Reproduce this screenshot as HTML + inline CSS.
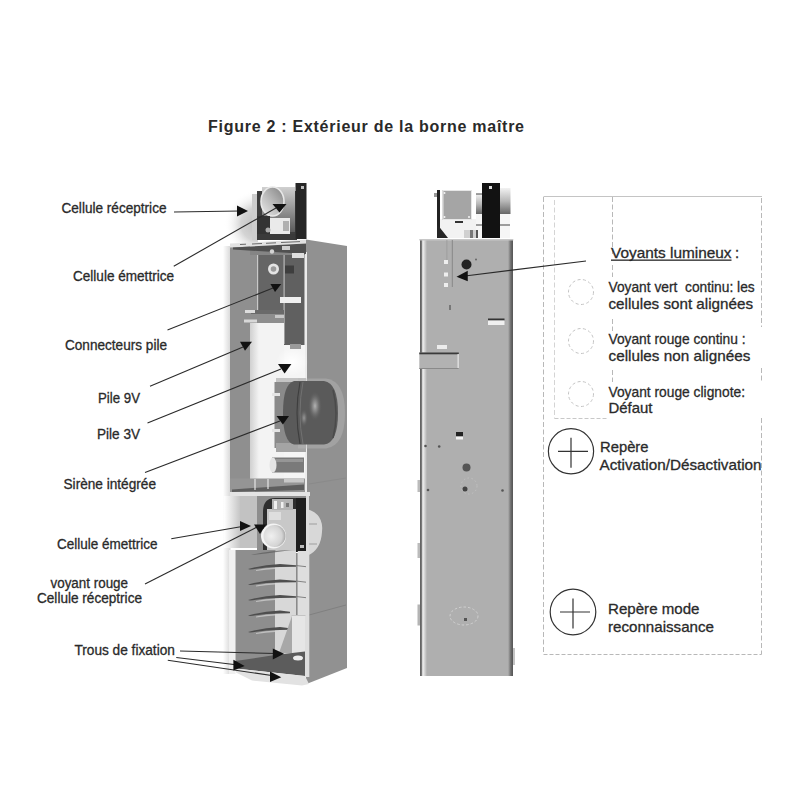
<!DOCTYPE html>
<html><head><meta charset="utf-8">
<style>
html,body{margin:0;padding:0;background:#fff;width:800px;height:800px;overflow:hidden}
svg{display:block}
text{font-family:"Liberation Sans",sans-serif;fill:#2a2a2a;stroke:#2a2a2a;stroke-width:0.3px}
</style></head><body>
<svg width="800" height="800" viewBox="0 0 800 800">
<defs>
  <linearGradient id="shadowL" x1="0" x2="1" y1="0" y2="0">
    <stop offset="0" stop-color="#fff"/><stop offset="1" stop-color="#c2c2c2"/>
  </linearGradient>
  <radialGradient id="lens" cx="0.4" cy="0.4" r="0.7">
    <stop offset="0" stop-color="#f4f4f4"/><stop offset="0.6" stop-color="#c8c8c8"/><stop offset="1" stop-color="#777"/>
  </radialGradient>
  <radialGradient id="siren" cx="0.55" cy="0.4" r="0.65">
    <stop offset="0" stop-color="#b0b0b0"/><stop offset="0.3" stop-color="#6a6a6a"/><stop offset="1" stop-color="#454545"/>
  </radialGradient>
  <radialGradient id="blob" cx="0.7" cy="0.55" r="0.6">
    <stop offset="0" stop-color="#b8b8b8"/><stop offset="0.5" stop-color="#dcdcdc"/><stop offset="1" stop-color="#fff" stop-opacity="0"/>
  </radialGradient>
  <linearGradient id="lensbg" x1="0" x2="0" y1="0" y2="1">
    <stop offset="0" stop-color="#d0d0d0"/><stop offset="1" stop-color="#5a5a5a"/>
  </linearGradient>
  <linearGradient id="edgeL" x1="0" x2="1" y1="0" y2="0">
    <stop offset="0" stop-color="#fff"/><stop offset="1" stop-color="#d8d8d8"/>
  </linearGradient>
  <linearGradient id="edgeIn" x1="0" x2="1" y1="0" y2="0">
    <stop offset="0" stop-color="#d0d0d0"/><stop offset="1" stop-color="#f3f3f3"/>
  </linearGradient>
  <radialGradient id="glow" cx="0.5" cy="0.5" r="0.5">
    <stop offset="0" stop-color="#fff"/><stop offset="1" stop-color="#fff" stop-opacity="0"/>
  </radialGradient>
  <radialGradient id="lens2" cx="0.35" cy="0.5" r="0.7">
    <stop offset="0" stop-color="#f0f0f0"/><stop offset="0.7" stop-color="#d4d4d4"/><stop offset="1" stop-color="#9a9a9a"/>
  </radialGradient>
  <linearGradient id="cylH" x1="0" x2="0" y1="0" y2="1">
    <stop offset="0" stop-color="#f2f2f2"/><stop offset="0.5" stop-color="#b8b8b8"/><stop offset="1" stop-color="#666"/>
  </linearGradient>
  <linearGradient id="edgeR" x1="0" x2="1" y1="0" y2="0">
    <stop offset="0" stop-color="#5a5a5a"/><stop offset="0.22" stop-color="#7a7a7a"/><stop offset="0.4" stop-color="#f2f2f2"/><stop offset="1" stop-color="#afafaf"/>
  </linearGradient>
  <linearGradient id="edgeRR" x1="0" x2="1" y1="0" y2="0">
    <stop offset="0" stop-color="#afafaf"/><stop offset="0.6" stop-color="#6a6a6a"/><stop offset="1" stop-color="#555"/>
  </linearGradient>
  <linearGradient id="lensT" x1="1" y1="0" x2="0" y2="1">
    <stop offset="0" stop-color="#808080"/><stop offset="0.55" stop-color="#bdbdbd"/><stop offset="1" stop-color="#ececec"/>
  </linearGradient>
  <linearGradient id="shadowT" x1="0" x2="1" y1="0" y2="0">
    <stop offset="0" stop-color="#fff" stop-opacity="0"/><stop offset="0.5" stop-color="#e0e0e0"/><stop offset="1" stop-color="#c4c4c4"/>
  </linearGradient>
  <radialGradient id="shadowT2" gradientUnits="userSpaceOnUse" cx="258" cy="224" r="34" fx="258" fy="224">
    <stop offset="0" stop-color="#bcbcbc"/><stop offset="0.5" stop-color="#d4d4d4"/><stop offset="1" stop-color="#fff" stop-opacity="0"/>
  </radialGradient>
  <radialGradient id="hl" cx="0.5" cy="0.5" r="0.5">
    <stop offset="0" stop-color="#b4b4b4"/><stop offset="0.4" stop-color="#8a8a8a" stop-opacity="0.8"/><stop offset="1" stop-color="#5a5a5a" stop-opacity="0"/>
  </radialGradient>
  <linearGradient id="cyl" x1="0" x2="0" y1="0" y2="1">
    <stop offset="0" stop-color="#e8e8e8"/><stop offset="0.5" stop-color="#8a8a8a"/><stop offset="1" stop-color="#f0f0f0"/>
  </linearGradient>
</defs>
<rect width="800" height="800" fill="#fff"/>

<!-- Title -->
<text x="208" y="132" font-size="16" font-weight="bold" textLength="316" lengthAdjust="spacing" fill="#1a1a1a" style="stroke:none">Figure 2 : Extérieur de la borne maître</text>

<!-- Left labels -->
<g font-size="14">
<text x="61.5" y="213" textLength="105" lengthAdjust="spacingAndGlyphs">Cellule réceptrice</text>
<text x="73" y="280.5" textLength="101" lengthAdjust="spacingAndGlyphs">Cellule émettrice</text>
<text x="65" y="349.5" textLength="102" lengthAdjust="spacingAndGlyphs">Connecteurs pile</text>
<text x="98" y="402.5" textLength="42" lengthAdjust="spacingAndGlyphs">Pile 9V</text>
<text x="97" y="438.5" textLength="43" lengthAdjust="spacingAndGlyphs">Pile 3V</text>
<text x="63.5" y="488.5" textLength="92.5" lengthAdjust="spacingAndGlyphs">Sirène intégrée</text>
<text x="57" y="548.5" textLength="100.5" lengthAdjust="spacingAndGlyphs">Cellule émettrice</text>
<text x="50.5" y="587.5" textLength="77.5" lengthAdjust="spacingAndGlyphs">voyant rouge</text>
<text x="37" y="602.5" textLength="105" lengthAdjust="spacingAndGlyphs">Cellule réceptrice</text>
<text x="74.4" y="654.5" textLength="100.5" lengthAdjust="spacingAndGlyphs">Trous de fixation</text>
</g>

<!-- Right legend -->
<g fill="none" stroke="#b8b8b8" stroke-width="1">
  <path d="M543.5 196.5 H762" stroke="#c4c4c4"/>
  <path d="M543.5 654.5 H761.5" stroke-dasharray="4 2"/>
  <path d="M543.5 197 V654.5 M761.5 198 V327 M761.5 368 V383 M761.5 418 V654.5 M612.5 197 V254 M612.5 265 V277 M612.5 319 V331 M612.5 370 V382" stroke-dasharray="5 2.5"/>
  <path d="M554.5 200 V418.5" stroke="#d4d4d4" stroke-dasharray="5 2.5"/>
  <path d="M554.5 418.5 H608" stroke="#c8c8c8" stroke-dasharray="4 2"/>
  <g stroke="#c4c4c4" stroke-dasharray="3 2.5">
  <circle cx="581" cy="292" r="12.5"/>
  <circle cx="581" cy="341" r="12.5"/>
  <circle cx="581" cy="394" r="12.5"/>
  </g>
</g>
<g font-size="14.8">
<text x="611" y="257.5" textLength="120.5" lengthAdjust="spacingAndGlyphs">Voyants lumineux</text>
<text x="735" y="257.5">:</text>
<rect x="611" y="259.5" width="120.5" height="1.3" fill="#262626"/>
<text x="608.5" y="292" textLength="146.2" lengthAdjust="spacingAndGlyphs" style="white-space:pre">Voyant vert  continu: les</text>
<text x="608.5" y="308.6" textLength="144.5" lengthAdjust="spacingAndGlyphs">cellules sont alignées</text>
<text x="608.5" y="344" textLength="137" lengthAdjust="spacingAndGlyphs">Voyant rouge continu :</text>
<text x="608.5" y="360.6" textLength="141.8" lengthAdjust="spacingAndGlyphs">cellules non alignées</text>
<text x="608.5" y="397" textLength="136.5" lengthAdjust="spacingAndGlyphs">Voyant rouge clignote:</text>
<text x="608.5" y="412.8" textLength="44" lengthAdjust="spacingAndGlyphs">Défaut</text>
<text x="600" y="451.8" textLength="48.5" lengthAdjust="spacingAndGlyphs">Repère</text>
<text x="599.5" y="470.3" textLength="162" lengthAdjust="spacingAndGlyphs">Activation/Désactivation</text>
<text x="608" y="613.6" textLength="91.5" lengthAdjust="spacingAndGlyphs">Repère mode</text>
<text x="608" y="631.5" textLength="106" lengthAdjust="spacingAndGlyphs">reconnaissance</text>
</g>
<g fill="none" stroke="#333" stroke-width="1.2">
  <circle cx="571" cy="451.3" r="22.6"/>
  <path d="M558 451.3 H588 M571 437.8 V467.8"/>
  <circle cx="573" cy="612" r="22.8"/>
  <path d="M560 612 H590 M573 598.5 V628.5"/>
</g>

<!-- LEFT DEVICE -->

<g id="leftdev">
  <!-- soft shadow left of top unit -->
  <rect x="222" y="176" width="36" height="84" fill="url(#shadowT2)"/>
  <rect x="252" y="194" width="6" height="46" fill="#cdcdcd"/>
  <!-- top receiver unit frame -->
  <rect x="257" y="191" width="40" height="49" fill="#3e3e3e"/>
  <rect x="262" y="187" width="33" height="45" fill="url(#lensbg)"/>
  <ellipse cx="272.5" cy="201.5" rx="11.5" ry="14.5" fill="url(#lensT)" stroke="#e8e8e8" stroke-width="1.6"/>
  <rect x="257" y="216" width="13" height="24" fill="#333"/>
  <rect x="270" y="218" width="20" height="16" fill="#eaeaea"/>
  <rect x="283" y="221" width="6" height="10" fill="#b0b0b0"/>
  <rect x="257" y="234" width="38" height="6" fill="#3a3a3a"/>
  <circle cx="268" cy="230" r="2.5" fill="#aaa"/>
  <rect x="295.5" y="183" width="11" height="56" fill="#262626"/>
  <rect x="301" y="186" width="3" height="3" fill="#bbb"/>

  <!-- outer left white/light edge -->
  <rect x="223" y="246" width="7.5" height="428" fill="url(#edgeL)"/>
  <!-- right side panel -->
  <path d="M306 239.5 L347 246 L347 668 L309 683 L306 683 Z" fill="#919191"/>
  <path d="M309 484 L346 478" stroke="#8a8a8a" stroke-width="1"/>
  <path d="M309 615 L346 605" stroke="#808080" stroke-width="1"/>
  <rect x="304.5" y="252" width="2.5" height="240" fill="#ececec"/>
  <!-- left wall -->
  <rect x="230" y="245" width="20" height="250" fill="#8f8f8f"/>
  <!-- top rim -->
  <path d="M230 243.5 L306 239.5 L306 243.5 L230 247.5 Z" fill="#e2e2e2"/>
  <path d="M240 244.5 L246 244.2 M252 244 L262 243.5 M266 243.3 L276 242.8 M281 242.5 L300 241.6" stroke="#6a6a6a" stroke-width="1"/>
  <!-- PCB area -->
  <rect x="250" y="252" width="7" height="71" fill="#8e8e8e"/>
  <rect x="257" y="254" width="27" height="56" fill="#656565"/>
  <rect x="257" y="254" width="1.2" height="56" fill="#c8c8c8"/>
  <rect x="284" y="252" width="20.5" height="93" fill="#606060"/>
  <rect x="283.5" y="254" width="1.2" height="90" fill="#b8b8b8"/>
  <rect x="250" y="247" width="55" height="8" fill="#858585"/>
  <path d="M233 247.5 L306 243.5 L306 254 L233 249.5 Z" fill="#505050"/>
  <circle cx="272" cy="251.5" r="2.2" fill="#d4d4d4"/>
  <rect x="282" y="246" width="8" height="4" fill="#cfcfcf"/>
  <circle cx="273.5" cy="269" r="5.5" fill="#e4e4e4"/>
  <circle cx="273.5" cy="269" r="2.8" fill="#9a9a9a"/>
  <rect x="285" y="265.5" width="9" height="8" fill="#3e3e3e"/>
  <rect x="292" y="253" width="12" height="5" fill="#e0e0e0"/>
  <rect x="280" y="297" width="21" height="6" fill="#f0f0f0"/>
  <!-- connectors -->
  <rect x="250" y="310" width="34" height="13" fill="#8e8e8e"/>
  <rect x="251" y="310" width="33" height="4" fill="#6a6a6a"/>
  <rect x="245" y="310" width="10" height="3" fill="#ddd"/>
  <rect x="244" y="319.5" width="13" height="3" fill="#d8d8d8"/>
  <rect x="275" y="315" width="9" height="3" fill="#c8c8c8"/>
  <!-- white battery / inner compartment -->
  <rect x="250" y="323" width="34" height="156" fill="#f3f3f3"/>
  <rect x="250" y="323" width="9" height="156" fill="url(#edgeIn)"/>
  <rect x="284" y="345" width="20.5" height="134" fill="#f5f5f5"/>
  <ellipse cx="292" cy="362" rx="16" ry="14" fill="url(#glow)"/>
  <rect x="290" y="344" width="11" height="5" fill="#9a9a9a"/>
  <!-- siren mount -->
  <rect x="276" y="378" width="30" height="4" fill="#c4c4c4"/>
  <rect x="274.5" y="382" width="20" height="66" fill="#8a8a8a"/>
  <rect x="272" y="393" width="8" height="3" fill="#e4e4e4"/>
  <rect x="272" y="429" width="8" height="3" fill="#e4e4e4"/>
  <rect x="276" y="443" width="30" height="9" fill="#a4a4a4"/>
  <!-- siren -->
  <path d="M298 378.5 L326 378.5 Q345 381 345 413 Q345 446 326 448.5 L298 448.5 Z" fill="#bcbcbc" opacity="0.4"/>
  <path d="M294 381 L324 381 Q338 383 338 413 Q338 443 324 444.5 L294 444.5 Q283 442 283 413 Q283 384 294 381 Z" fill="#5a5a5a"/>
  <path d="M300 382 Q294 413 300 444" stroke="#3e3e3e" stroke-width="1.1" fill="none"/>
  <path d="M303 382 Q297 413 303 444" stroke="#777" stroke-width="0.8" fill="none"/>
  <ellipse cx="315" cy="406" rx="7" ry="15" fill="url(#hl)"/>
  <ellipse cx="304" cy="418" rx="4" ry="9" fill="url(#hl)" opacity="0.7"/>
  <path d="M333 390 Q339 413 333 438" stroke="#4a4a4a" stroke-width="1.5" fill="none"/>
  <!-- 3V battery cylinder -->
  <rect x="272" y="457.5" width="32" height="15" fill="#7a7a7a"/>
  <rect x="276" y="459" width="27" height="3" fill="#969696"/>
  <ellipse cx="273" cy="465" rx="3.5" ry="7.5" fill="#e4e4e4"/>
  <!-- bottom grid of top compartment -->
  <rect x="230" y="478.5" width="75" height="13.5" fill="#959595"/>
  <path d="M232 489.5 L304 484.5 L304 490 L232 492 Z" fill="#5e5e5e"/>
  <path d="M255 479 V490 M268 479 V489" stroke="#e4e4e4" stroke-width="1.2"/>
  <rect x="284" y="478.5" width="20" height="4" fill="#c8c8c8"/>
  <rect x="230" y="492" width="80" height="4" fill="#e4e4e4"/>
  <!-- LOWER SECTION -->
  <rect x="224" y="496" width="17" height="52" fill="url(#shadowL)"/>
  <rect x="240" y="496" width="18" height="52" fill="#c2c2c2"/>
  <rect x="257" y="496" width="49" height="56" fill="#8e8e8e"/>
  <path d="M263 552 L263 512 Q263 498 275 498 L306 498 L306 552 Z" fill="#2e2e2e"/>
  <rect x="267" y="509" width="29" height="42" fill="#c8c8c8"/>
  <rect x="272" y="499" width="21" height="11" fill="#b4b4b4"/>
  <rect x="274" y="501" width="3" height="8" fill="#f0f0f0"/>
  <rect x="281" y="502" width="2.5" height="6" fill="#f0f0f0"/>
  <rect x="286" y="503" width="3" height="4" fill="#777"/>
  <rect x="269" y="512" width="12" height="8" fill="#dedede"/>
  <circle cx="273.5" cy="536" r="12.5" fill="#f4f4f4"/>
  <circle cx="274.5" cy="536" r="11" fill="url(#lens2)"/>
  <rect x="296" y="498" width="10.5" height="54" fill="#1e1e1e"/>
  <rect x="300" y="545" width="4" height="3" fill="#bbb"/>
  <path d="M307 509 Q324 514 322 532 Q321 550 307 556 Z" fill="#d8d8d8"/>
  <path d="M307 524 H317 M307 544 H317" stroke="#999" stroke-width="0.9"/>
  <rect x="306" y="496" width="3" height="62" fill="#dcdcdc"/>
  <!-- lower body -->
  <rect x="229" y="550" width="6.5" height="124" fill="#f0f0f0"/>
  <rect x="235.5" y="550" width="40" height="112" fill="#8e8e8e"/>
  <rect x="275" y="551" width="21" height="110" fill="#d8d8d8"/>
  <rect x="296" y="553" width="1.8" height="62" fill="#8a8a8a"/>
  <rect x="297.8" y="551" width="11.5" height="126" fill="#dedede"/>
  <g>
    <path d="M248 569.0 Q262 565.0 280 564.0 L296 565.3 L296 566.7 L280 567.0 Q264 567.3 250 569.5 Z" fill="#4e4e4e"/>
    <path d="M256 570.0 Q266 567.7 275 567.5 L275 569.0 Q266 569.3 256 571.0 Z" fill="#c0c0c0"/>
    <path d="M296 565.5 L306 566.7" stroke="#777" stroke-width="0.9"/>
    <path d="M248 584.5 Q262 580.5 280 579.5 L296 580.8 L296 582.2 L280 582.5 Q264 582.8 250 585 Z" fill="#4e4e4e"/>
    <path d="M256 585.5 Q266 583.2 275 583 L275 584.5 Q266 584.8 256 586.5 Z" fill="#c0c0c0"/>
    <path d="M296 581 L306 582.2" stroke="#777" stroke-width="0.9"/>
    <path d="M248 600.0 Q262 596.0 280 595.0 L296 596.3 L296 597.7 L280 598.0 Q264 598.3 250 600.5 Z" fill="#4e4e4e"/>
    <path d="M256 601.0 Q266 598.7 275 598.5 L275 600.0 Q266 600.3 256 602.0 Z" fill="#c0c0c0"/>
    <path d="M296 596.5 L306 597.7" stroke="#777" stroke-width="0.9"/>
    <path d="M248 615.5 Q262 611.5 280 610.5 L290 611.8 L290 613.2 L280 613.5 Q264 613.8 250 616 Z" fill="#4e4e4e"/>
    <path d="M256 616.5 Q266 614.2 275 614 L275 615.5 Q266 615.8 256 617.5 Z" fill="#c0c0c0"/>
    <path d="M248 632.0 Q262 628.0 280 627.0 L290 628.3 L290 629.7 L280 630.0 Q264 630.3 250 632.5 Z" fill="#4e4e4e"/>
    <path d="M256 633.0 Q266 630.7 275 630.5 L275 632.0 Q266 632.3 256 634.0 Z" fill="#c0c0c0"/>
    <path d="M251 555 Q266 551 292 550 L266 553.5 Z" fill="#5a5a5a" opacity="0.7"/>
  </g>
  <rect x="292" y="615.5" width="13" height="38" fill="#e6e6e6"/>
  <path d="M292 616 L292 653 L279 653 Z" fill="#a8a8a8"/>
  <rect x="291.5" y="615" width="14" height="1" fill="#c4c4c4"/>
  <!-- base -->
  <path d="M235.5 661 L275 655 L305 651.5 L305 676 L235.5 668.5 Z" fill="#5c5c5c"/>
  <ellipse cx="298" cy="658" rx="5" ry="2.5" fill="#eee"/>
  <path d="M235.5 668.5 L305 676 L309 684 L302 685.5 L252 680.5 L236 672.5 Z" fill="#e2e2e2"/>
</g>

<!-- RIGHT DEVICE -->
<g id="rightdev">
  <!-- top assembly -->
  <rect x="434" y="193" width="4" height="4" fill="#999"/>
  <rect x="440" y="219" width="36" height="19" fill="#f2f2f2"/>
  <rect x="437" y="190" width="3" height="48" fill="#222"/>
  <path d="M437 224 L448 238 L437 238 Z" fill="#262626"/>
  <rect x="442.5" y="190" width="29.5" height="30" fill="#a5a5a5"/>
  <rect x="443" y="190.5" width="28.5" height="29" fill="none" stroke="#e6e6e6" stroke-width="1"/>
  <circle cx="444.5" cy="193" r="1" fill="#f4f4f4"/><circle cx="444.5" cy="217" r="1" fill="#f4f4f4"/><circle cx="469" cy="217" r="1" fill="#f4f4f4"/>
  <rect x="455" y="221" width="8" height="2" fill="#333"/>
  <rect x="464" y="230" width="12" height="8" fill="#d0d0d0"/>
  <rect x="470" y="230" width="3" height="8" fill="#777"/>
  <rect x="476" y="214" width="34" height="24" fill="#f6f6f6"/>
  <rect x="476" y="194" width="6" height="20" fill="url(#cylH)"/>
  <rect x="500" y="188" width="10.5" height="26" fill="url(#cylH)"/>
  <path d="M476 194 H482 M476 225 H510" stroke="#444" stroke-width="1.2"/>
  <rect x="476" y="230" width="2" height="8" fill="#555"/>
  <rect x="482" y="183" width="18" height="55" fill="#121212"/>
  <rect x="489" y="186" width="3" height="3" fill="#ddd"/>
  <!-- main body -->
  <rect x="420" y="239" width="93" height="437" fill="#afafaf"/>
  <rect x="420" y="239" width="7" height="437" fill="url(#edgeR)"/>
  <rect x="508" y="239" width="5" height="437" fill="url(#edgeRR)"/>
  <rect x="419.3" y="239" width="94" height="1.5" fill="#c8c8c8"/>
  <rect x="451.8" y="240" width="1" height="47" fill="#888"/>
  <rect x="446.5" y="240" width="0.8" height="22" fill="#999"/>
  <rect x="444" y="260" width="4" height="4" fill="#eee"/>
  <rect x="444" y="272.5" width="4" height="4" fill="#eee"/>
  <rect x="444" y="283" width="4" height="4" fill="#eee"/>
  <circle cx="466.5" cy="264.5" r="5" fill="#222"/>
  <circle cx="476" cy="259.5" r="1" fill="#666"/>
  <rect x="488" y="318.5" width="16.5" height="2" fill="#333"/>
  <rect x="488" y="320.5" width="16.5" height="4.5" fill="#f0f0f0"/>
  <rect x="437" y="345" width="10" height="4" fill="#ececec"/>
  <rect x="449" y="305" width="2" height="5" fill="#777"/>
  <!-- tab -->
  <rect x="419.3" y="352.5" width="39.5" height="16.5" fill="#b2b2b2"/>
  <rect x="419.3" y="352.5" width="39.5" height="1.8" fill="#3a3a3a"/>
  <rect x="457.5" y="354" width="1.3" height="15" fill="#e4e4e4"/>
  <rect x="419.3" y="368" width="39.5" height="1" fill="#8a8a8a"/>
  <!-- lower features -->
  <rect x="456" y="432" width="7" height="4.5" fill="#222"/>
  <rect x="456" y="436.5" width="7" height="3" fill="#f0f0f0"/>
  <circle cx="425.5" cy="446" r="1.3" fill="#555"/>
  <circle cx="439.2" cy="446.5" r="1.3" fill="#555"/>
  <circle cx="466.5" cy="467.5" r="4" fill="#555"/>
  <circle cx="465" cy="489" r="2.5" fill="#444"/>
  <circle cx="428" cy="490" r="1.3" fill="#555"/>
  <circle cx="502.5" cy="490.5" r="1.3" fill="#555"/>
  <circle cx="469" cy="486" r="8" fill="none" stroke="#c4c4c4" stroke-width="0.8" stroke-dasharray="1.5 2.5"/>
  <ellipse cx="464" cy="616" rx="14" ry="9" fill="none" stroke="#d0d0d0" stroke-width="1" stroke-dasharray="2.5 2"/>
  <rect x="464" y="618" width="3" height="3" fill="#555"/>
  <rect x="417.5" y="543" width="2.5" height="15" fill="#bbb"/>
  <rect x="417.5" y="604.5" width="2.5" height="21" fill="#b4b4b4"/>
  <rect x="513" y="648" width="2" height="17" fill="#c4c4c4"/>
  <rect x="417.5" y="480" width="2.5" height="12" fill="#bbb"/>
</g>


<!-- arrows -->
<g stroke="#2a2a2a" stroke-width="1.1" fill="none">
  <path d="M174 212 L240 211"/>
  <path d="M173.75 266.25 L276 208"/>
  <path d="M167.5 330 L273 288"/>
  <path d="M150 386.25 L243 347"/>
  <path d="M147.5 423 L281 369"/>
  <path d="M145 472.5 L280 421"/>
  <path d="M171.25 538.75 L245 526"/>
  <path d="M145 584 L257 527"/>
  <path d="M180 651 L276 653.5"/>
  <path d="M176.25 657.5 L238 665"/>
  <path d="M167.8 660.3 L275 676"/>
  <path d="M586 261 L465 276"/>
</g>
<g fill="#111">
  <path d="M248 211 L237 205.6 L237 216.6 Z"/>
  <path d="M272.5 204 L286.5 204 L279.5 212.6 Z"/>
  <path d="M270.4 284 L281.25 284 L275 292 Z"/>
  <path d="M240 341.7 L252 341.7 L245 350.8 Z"/>
  <path d="M278 364 L291.4 364 L284.6 373.6 Z"/>
  <path d="M276.5 416 L289 416 L282.9 424.6 Z"/>
  <path d="M251 526 L240 521 L240 531 Z"/>
  <path d="M254 524.4 L266 524.4 L260 534 Z"/>
  <path d="M284 653.75 L272.8 648.5 L272.8 659.4 Z"/>
  <path d="M244.7 666 L233.4 659.75 L233.4 670.6 Z"/>
  <path d="M281.25 677.2 L270 671.5 L270 681.9 Z"/>
  <path d="M456.5 276.75 L467.75 270.75 L467.75 281.25 Z"/>
</g>
</svg>
</body></html>
